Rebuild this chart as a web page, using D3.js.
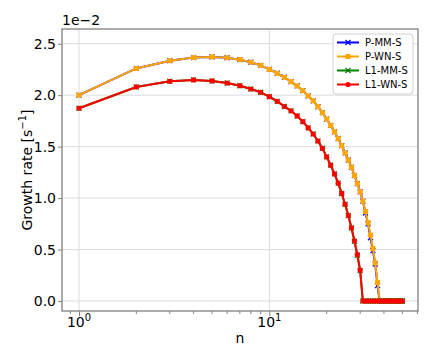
<!DOCTYPE html>
<html>
<head>
<meta charset="utf-8">
<script src="https://cdn.jsdelivr.net/npm/d3@7"></script>
<style>
  body { margin: 0; background: #fff; }
  svg { display: block; font-family: "DejaVu Sans", sans-serif; }
</style>
</head>
<body>
<div id="chart"></div>
<script>
"use strict";

// Mode number n (x axis, log scale)
const nValues = [1, 2, 3, 4, 5, 6, 7, 8, 9, 10, 11, 12, 13, 14, 15, 16, 17, 18, 19, 20,
  21, 22, 23, 24, 25, 26, 27, 28, 29, 30, 31, 32, 33, 34, 35, 36, 37, 38, 39, 40,
  41, 42, 43, 44, 45, 46, 47, 48, 49, 50];

// Growth rates, in units of 1e-2 s^-1
const pMMS = [2.00, 2.26, 2.335, 2.365, 2.372, 2.364, 2.345, 2.32, 2.29, 2.25,
  2.213, 2.174, 2.131, 2.09, 2.044, 1.992, 1.945, 1.888, 1.83, 1.768,
  1.706, 1.643, 1.578, 1.51, 1.44, 1.37, 1.30, 1.22, 1.14, 1.06,
  0.97, 0.855, 0.75, 0.615, 0.49, 0.36, 0.15, 0, 0, 0,
  0, 0, 0, 0, 0, 0, 0, 0, 0, 0];
const pWNS = [2.00, 2.26, 2.335, 2.365, 2.372, 2.364, 2.345, 2.32, 2.29, 2.25,
  2.213, 2.174, 2.131, 2.09, 2.044, 1.992, 1.945, 1.888, 1.83, 1.768,
  1.706, 1.643, 1.578, 1.51, 1.44, 1.37, 1.30, 1.22, 1.14, 1.06,
  0.97, 0.87, 0.76, 0.64, 0.51, 0.37, 0.18, 0, 0, 0,
  0, 0, 0, 0, 0, 0, 0, 0, 0, 0];
const l1MMS = [1.873, 2.08, 2.135, 2.148, 2.138, 2.118, 2.092, 2.06, 2.028, 1.985,
  1.94, 1.89, 1.848, 1.798, 1.743, 1.682, 1.623, 1.555, 1.484, 1.40,
  1.32, 1.235, 1.145, 1.045, 0.94, 0.83, 0.71, 0.58, 0.445, 0.295,
  0, 0, 0, 0, 0, 0, 0, 0, 0, 0,
  0, 0, 0, 0, 0, 0, 0, 0, 0, 0];
const l1WNS = [1.873, 2.08, 2.135, 2.148, 2.138, 2.118, 2.092, 2.06, 2.028, 1.985,
  1.94, 1.89, 1.848, 1.798, 1.743, 1.682, 1.623, 1.555, 1.484, 1.40,
  1.32, 1.235, 1.145, 1.045, 0.94, 0.83, 0.71, 0.585, 0.45, 0.30,
  0, 0, 0, 0, 0, 0, 0, 0, 0, 0,
  0, 0, 0, 0, 0, 0, 0, 0, 0, 0];

const seriesNames = ["P-MM-S", "P-WN-S", "L1-MM-S", "L1-WN-S"];
const seriesValues = [pMMS, pWNS, l1MMS, l1WNS];
const seriesColors = ["#0000ff", "#ffa500", "#008000", "#ff0000"];
const seriesMarkers = ["x", "square", "x", "circle"];

const yTicks = [0.0, 0.5, 1.0, 1.5, 2.0, 2.5];
const xMajorTicks = [1, 10];
const xMinorTicks = [0.9, 2, 3, 4, 5, 6, 7, 8, 9, 20, 30, 40, 50, 60];

const width = 436;
const height = 363;
const margin = { top: 29, right: 18, bottom: 52, left: 62 };

const svg = d3.select("#chart")
  .append("svg")
  .attr("width", width)
  .attr("height", height);

const x = d3.scaleLog()
  .domain([0.814, 60.4])
  .range([margin.left, width - margin.right]);

const y = d3.scaleLinear()
  .domain([-0.097, 2.643])
  .range([height - margin.bottom, margin.top]);

// grid
const grid = svg.append("g");
grid.selectAll("line.gy")
  .data(yTicks)
  .join("line")
  .attr("x1", margin.left).attr("x2", width - margin.right)
  .attr("y1", d => y(d)).attr("y2", d => y(d))
  .attr("stroke", "#dcdcdc").attr("stroke-width", 1);
grid.selectAll("line.gx")
  .data(xMajorTicks)
  .join("line")
  .attr("x1", d => x(d)).attr("x2", d => x(d))
  .attr("y1", margin.top).attr("y2", height - margin.bottom)
  .attr("stroke", "#dcdcdc").attr("stroke-width", 1);

// series
const line = d3.line()
  .x((d, i) => x(nValues[i]))
  .y(d => y(d));

seriesValues.forEach((vals, k) => {
  const g = svg.append("g");
  const color = seriesColors[k];
  g.append("path")
    .datum(vals)
    .attr("d", line)
    .attr("fill", "none")
    .attr("stroke", color)
    .attr("stroke-width", 2)
    .attr("stroke-linejoin", "round");
  drawMarkers(g, vals.map((v, i) => [x(nValues[i]), y(v)]), seriesMarkers[k], color);
});

function drawMarkers(g, pts, type, color) {
  if (type === "circle") {
    g.selectAll("circle").data(pts).join("circle")
      .attr("cx", d => d[0]).attr("cy", d => d[1]).attr("r", 2.6)
      .attr("fill", color);
  } else if (type === "square") {
    g.selectAll("rect").data(pts).join("rect")
      .attr("x", d => d[0] - 2.5).attr("y", d => d[1] - 2.5)
      .attr("width", 5).attr("height", 5)
      .attr("fill", color);
  } else {
    g.selectAll("path.mk").data(pts).join("path")
      .attr("class", "mk")
      .attr("d", d => `M${d[0] - 2.5},${d[1] - 2.5}L${d[0] + 2.5},${d[1] + 2.5}M${d[0] - 2.5},${d[1] + 2.5}L${d[0] + 2.5},${d[1] - 2.5}`)
      .attr("stroke", color).attr("stroke-width", 1.2);
  }
}

// axes
const xAxis = svg.append("g")
  .attr("transform", `translate(0,${height - margin.bottom})`)
  .call(d3.axisBottom(x).tickValues(xMajorTicks).tickSize(5).tickPadding(4).tickFormat(""));
xAxis.append("g")
  .selectAll("line")
  .data(xMinorTicks)
  .join("line")
  .attr("x1", d => x(d)).attr("x2", d => x(d))
  .attr("y1", 0).attr("y2", 3)
  .attr("stroke", "#808080");

const yAxis = svg.append("g")
  .attr("transform", `translate(${margin.left},0)`)
  .call(d3.axisLeft(y).tickValues(yTicks).tickSize(4).tickPadding(2).tickFormat(d3.format(".1f")));

[xAxis, yAxis].forEach(a => {
  a.select(".domain").remove();
  a.selectAll(".tick line").attr("stroke", "#808080");
  a.selectAll("text").attr("fill", "#000").style("font-size", "14px")
    .style("font-family", "DejaVu Sans");
});

// x tick labels 10^k
xMajorTicks.forEach(t => {
  const txt = svg.append("text")
    .attr("x", x(t))
    .attr("y", 327)
    .attr("text-anchor", "middle")
    .style("font-size", "14px");
  txt.append("tspan").text("10");
  txt.append("tspan").attr("dy", -6).style("font-size", "10px").text(String(Math.round(Math.log10(t))));
});

// frame
svg.append("rect")
  .attr("x", margin.left).attr("y", margin.top)
  .attr("width", width - margin.left - margin.right)
  .attr("height", height - margin.top - margin.bottom)
  .attr("fill", "none").attr("stroke", "#808080").attr("stroke-width", 1.3);

// labels
svg.append("text")
  .attr("x", (margin.left + width - margin.right) / 2)
  .attr("y", 343)
  .attr("text-anchor", "middle")
  .style("font-size", "14px")
  .text("n");

const yl = svg.append("text")
  .attr("transform", `translate(32,${(margin.top + height - margin.bottom) / 2}) rotate(-90)`)
  .attr("text-anchor", "middle")
  .style("font-size", "14px");
yl.append("tspan").text("Growth rate [s");
yl.append("tspan").attr("dy", -6).style("font-size", "10px").text("\u22121");
yl.append("tspan").attr("dy", 6).text("]");

svg.append("text")
  .attr("x", margin.left)
  .attr("y", 25)
  .style("font-size", "14px")
  .text("1e\u22122");

// legend
const legend = svg.append("g").attr("transform", "translate(333,34)");
legend.append("rect")
  .attr("width", 80).attr("height", 60).attr("rx", 3)
  .attr("fill", "#fff").attr("fill-opacity", 0.8)
  .attr("stroke", "#d0d0d0");
seriesNames.forEach((name, k) => {
  const gy = 8.5 + k * 14;
  const g = legend.append("g");
  g.append("line")
    .attr("x1", 4).attr("x2", 26).attr("y1", gy).attr("y2", gy)
    .attr("stroke", seriesColors[k]).attr("stroke-width", 2);
  drawMarkers(g, [[15, gy]], seriesMarkers[k], seriesColors[k]);
  g.append("text")
    .attr("x", 32).attr("y", gy + 3.6)
    .style("font-size", "10px")
    .text(name);
});
</script>
</body>
</html>
